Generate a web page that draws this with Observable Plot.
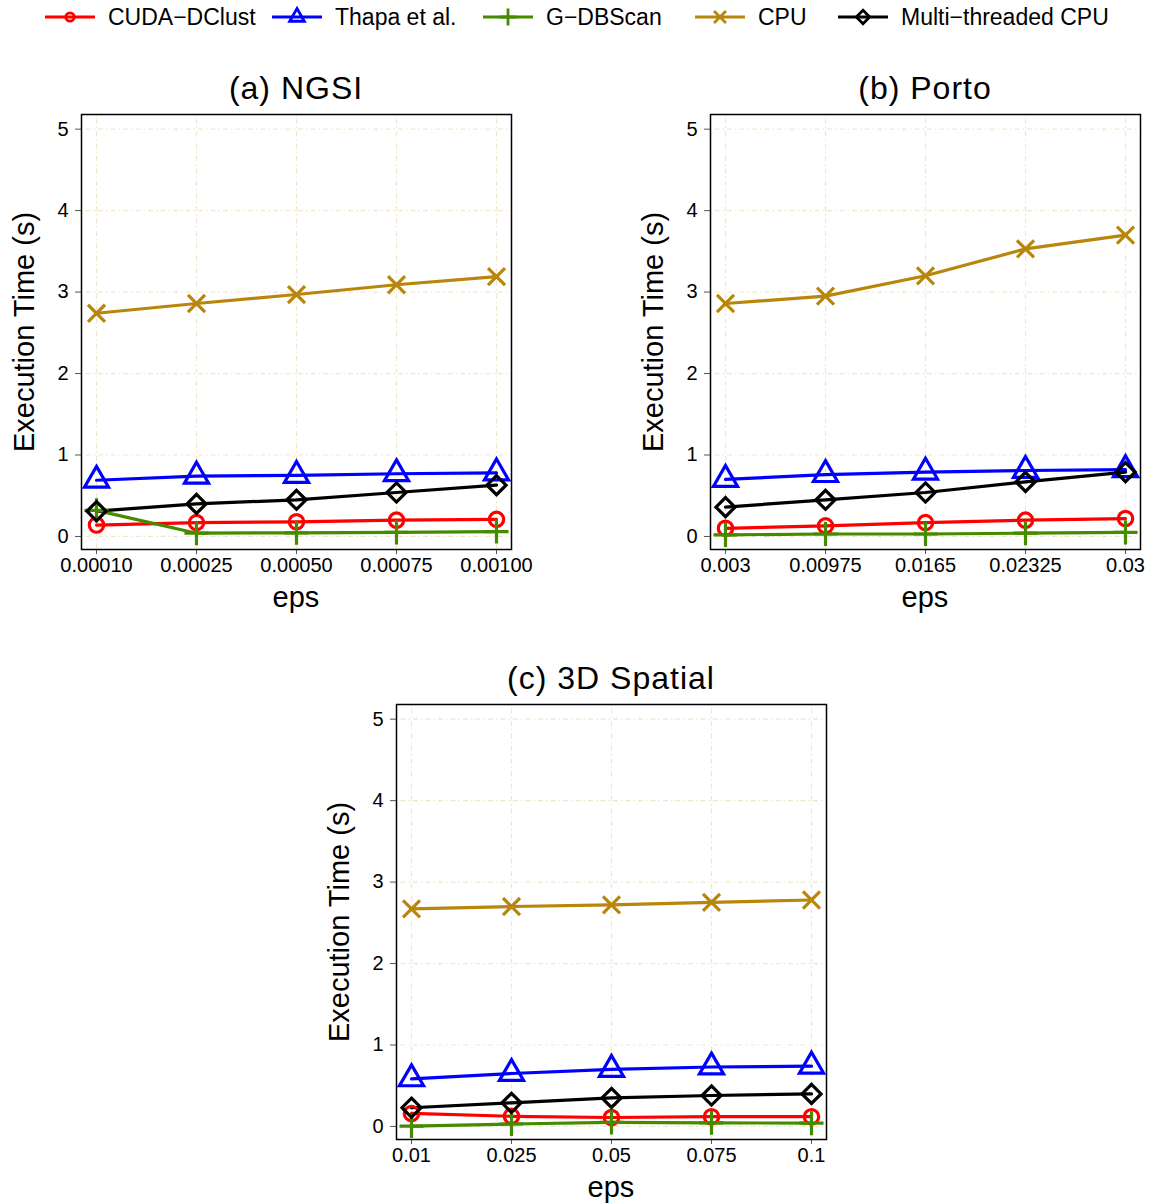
<!DOCTYPE html>
<html><head><meta charset="utf-8">
<script src="https://cdn.jsdelivr.net/npm/d3@7"></script>
<script src="https://cdn.jsdelivr.net/npm/@observablehq/plot@0.6"></script>
<style>
html,body{margin:0;padding:0;background:#fff;overflow:hidden;}
#root{position:relative;width:1155px;height:1204px;font-family:"Liberation Sans",Arial,Helvetica,sans-serif;color:#000;}
.abs{position:absolute;white-space:nowrap;line-height:1;}
.title{font-size:32px;letter-spacing:1px;transform:translate(-50%,-50%);}
.ylab{font-size:29px;transform:translate(-50%,-50%) rotate(-90deg);}
.xlab{font-size:29px;transform:translate(-50%,-50%);}
.leg{font-size:23px;transform:translateY(-50%);}
</style></head><body><div id="root"></div>
<script>
// ---------- data ----------
const seriesNames = ["CUDA−DClust", "Thapa et al.", "G−DBScan", "CPU", "Multi−threaded CPU"];
const seriesColors = ["#ff0000", "#0000ff", "#458b00", "#b8860b", "#000000"];
const seriesSymbols = ["circle", "triangle2", "plus", "times", "diamond2"];

const epsNGSI = ["0.00010", "0.00025", "0.00050", "0.00075", "0.00100"];
const ngsiCUDA  = [0.14, 0.17, 0.18, 0.20, 0.21];
const ngsiThapa = [0.69, 0.74, 0.75, 0.77, 0.78];
const ngsiGDB   = [0.32, 0.04, 0.045, 0.05, 0.06];
const ngsiCPU   = [2.74, 2.86, 2.97, 3.09, 3.19];
const ngsiMulti = [0.31, 0.40, 0.45, 0.54, 0.63];

const epsPorto = ["0.003", "0.00975", "0.0165", "0.02325", "0.03"];
const portoCUDA  = [0.10, 0.13, 0.17, 0.20, 0.22];
const portoThapa = [0.70, 0.76, 0.79, 0.81, 0.82];
const portoGDB   = [0.02, 0.03, 0.03, 0.04, 0.05];
const portoCPU   = [2.86, 2.95, 3.20, 3.53, 3.70];
const portoMulti = [0.36, 0.45, 0.54, 0.67, 0.79];

const eps3D = ["0.01", "0.025", "0.05", "0.075", "0.1"];
const s3dCUDA  = [0.16, 0.125, 0.11, 0.12, 0.12];
const s3dThapa = [0.585, 0.65, 0.70, 0.73, 0.74];
const s3dGDB   = [0.005, 0.03, 0.05, 0.045, 0.04];
const s3dCPU   = [2.67, 2.70, 2.72, 2.75, 2.78];
const s3dMulti = [0.23, 0.29, 0.35, 0.38, 0.40];

const yTicks = [0, 1, 2, 3, 4, 5];
const panelTitles = ["(a) NGSI", "(b) Porto", "(c) 3D Spatial"];
const yLabel = "Execution Time (s)";
const xLabel = "eps";

// ---------- styling ----------
const markerR = [7.2, 11.5, 7.8, 7.8, 8.6];
const legendR = [4.2, 7, 5.5, 5.5, 6];
const gridColor = "#efe7cc";
const root = document.getElementById("root");
const FONT = "Liberation Sans, Arial, Helvetica, sans-serif";

function addText(cls, text, x, y) {
  const d = document.createElement("div");
  d.className = "abs " + cls;
  d.textContent = text;
  d.style.left = x + "px";
  d.style.top = y + "px";
  root.appendChild(d);
}

function panel(eps, vals, title, frameLeft, frameTop) {
  const data = [];
  seriesNames.forEach((s, i) => vals[i].forEach((v, j) => data.push({series: s, eps: eps[j], value: v})));
  const mL = 81, mT = 10, mR = 15, mB = 70, fw = 430, fh = 435;
  const svg = Plot.plot({
    width: mL + fw + mR, height: mT + fh + mB,
    marginLeft: mL, marginTop: mT, marginRight: mR, marginBottom: mB,
    style: {fontFamily: FONT, fontSize: "20px", color: "#000", background: "transparent", overflow: "visible"},
    x: {type: "point", domain: eps, padding: 0.145},
    y: {domain: [-0.16, 5.18]},
    color: {domain: seriesNames, range: seriesColors},
    symbol: {domain: seriesNames, range: seriesSymbols},
    marks: [
      Plot.gridX({stroke: gridColor, strokeOpacity: 1, strokeWidth: 1.2, strokeDasharray: "1.5,3,5,3"}),
      Plot.gridY(yTicks, {stroke: gridColor, strokeOpacity: 1, strokeWidth: 1.2, strokeDasharray: "1.5,3,5,3"}),
      Plot.axisY(yTicks, {tickSize: 6, tickPadding: 7, stroke: "#555", fill: "#000", label: null, tickFormat: d => String(d)}),
      Plot.axisX({tickSize: 5, tickPadding: 3, stroke: "#555", fill: "#000", label: null}),
      ...seriesNames.map(s => Plot.line(data.filter(d => d.series === s),
        {x: "eps", y: "value", stroke: "series", strokeWidth: 3.2})),
      ...seriesNames.map((s, i) => Plot.dot(data.filter(d => d.series === s),
        {x: "eps", y: "value", stroke: "series", symbol: "series", r: markerR[i], strokeWidth: 3.2, fill: "none"})),
      Plot.frame({stroke: "#000", strokeWidth: 1.5})
    ]
  });
  svg.style.position = "absolute";
  svg.style.left = (frameLeft - mL) + "px";
  svg.style.top = (frameTop - mT) + "px";
  root.appendChild(svg);
  const cx = frameLeft + fw / 2;
  addText("title", title, cx, frameTop - 26);
  addText("ylab", yLabel, frameLeft - 57, frameTop + fh / 2);
  addText("xlab", xLabel, cx, frameTop + fh + 48);
}

panel(epsNGSI, [ngsiCUDA, ngsiThapa, ngsiGDB, ngsiCPU, ngsiMulti], panelTitles[0], 81, 114);
panel(epsPorto, [portoCUDA, portoThapa, portoGDB, portoCPU, portoMulti], panelTitles[1], 710, 114);
panel(eps3D, [s3dCUDA, s3dThapa, s3dGDB, s3dCPU, s3dMulti], panelTitles[2], 396, 704);

// ---------- legend ----------
const legendX = [45, 272, 483, 695, 838];
const legendY = 17;
const symbolMap = {circle: d3.symbolCircle, triangle2: d3.symbolTriangle2, plus: d3.symbolPlus, times: d3.symbolTimes, diamond2: d3.symbolDiamond2};
seriesNames.forEach((s, i) => {
  const x0 = legendX[i];
  const svg = d3.create("svg").attr("width", 56).attr("height", 30)
    .style("position", "absolute").style("left", (x0 - 2) + "px").style("top", (legendY - 15) + "px");
  svg.append("line").attr("x1", 2).attr("x2", 52).attr("y1", 15).attr("y2", 15)
    .attr("stroke", seriesColors[i]).attr("stroke-width", 3.2);
  svg.append("path").attr("transform", "translate(27,15)")
    .attr("d", d3.symbol(symbolMap[seriesSymbols[i]], Math.PI * legendR[i] * legendR[i])())
    .attr("fill", "none").attr("stroke", seriesColors[i]).attr("stroke-width", 2.8);
  root.appendChild(svg.node());
  addText("leg", s, x0 + 63, legendY);
});
</script></body></html>
